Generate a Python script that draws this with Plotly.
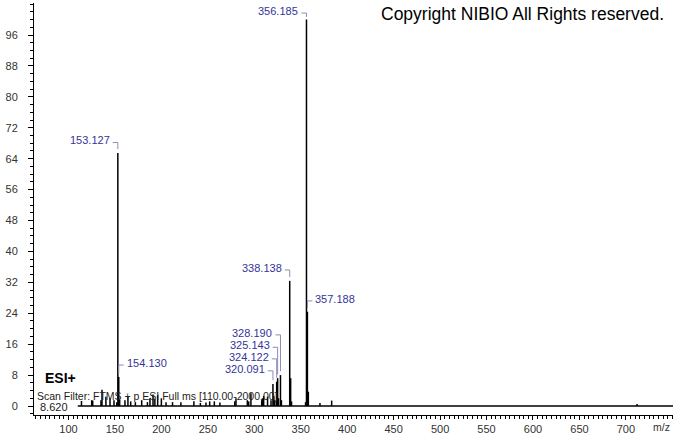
import plotly.graph_objects as go

# ---------------- data ----------------
# labelled peaks (m/z, relative intensity %)
label_mz = [153.127, 154.130, 320.091, 324.122, 325.143, 328.190, 338.138, 356.185, 357.188]
label_int = [65.5, 7.5, 5.7, 6.3, 7.2, 8.0, 32.4, 100.0, 24.4]

# unlabelled minor peaks (m/z, relative intensity %)
minor_mz = [114.0, 125.0, 126.1, 135.0, 136.1, 140.3, 144.7, 149.0, 152.0, 155.1,
            160.8, 164.0, 167.0, 172.0, 178.8, 185.0, 187.7, 191.0, 193.0, 196.0,
            200.0, 205.0, 212.0, 221.0, 235.0, 242.0, 248.0, 252.0, 257.0, 263.0,
            279.0, 280.3, 292.5, 294.0, 296.4, 308.0, 309.0, 310.1, 314.3, 318.0,
            321.1, 322.1, 326.1, 329.2, 339.14, 340.1, 355.2, 358.19, 370.7, 383.3,
            712.0]
minor_int = [1.3, 1.5, 1.4, 1.5, 4.2, 2.4, 2.0, 1.5, 1.0, 1.6,
             1.5, 2.3, 1.2, 1.0, 1.5, 1.0, 2.0, 3.0, 1.8, 2.8,
             2.0, 1.0, 1.0, 1.0, 1.2, 0.8, 0.9, 1.2, 1.2, 0.9,
             1.2, 2.0, 1.5, 1.2, 3.3, 1.5, 2.0, 2.6, 2.4, 1.5,
             2.5, 1.5, 2.0, 1.5, 7.2, 1.2, 1.0, 3.7, 0.8, 1.4,
             0.5]

scan_range = [110.0, 2000.0]

x_ticks = [100, 150, 200, 250, 300, 350, 400, 450, 500, 550, 600, 650, 700]
y_ticks = [0, 8, 16, 24, 32, 40, 48, 56, 64, 72, 80, 88, 96]

# ---------------- label layout (positions, not data) ----------------
label_side = ["left", "right", "left", "left", "left", "left", "left", "left", "right"]
label_y = [68.2, 10.6, 9.1, 12.2, 15.2, 18.4, 35.2, 101.7, 27.2]

LABEL_COLOR = "#34349a"
BRACKET_COLOR = "#8c8cb6"
FONT = "Liberation Sans, Arial, sans-serif"

W, H = 674, 434
ML, MR, MT, MB = 34, 1, 3, 19
PW, PH = W - ML - MR, H - MT - MB


def px(xp, yp):
    """pixel position -> paper coordinates"""
    return (xp - ML) / PW, 1 - (yp - MT) / PH


# ---------------- build figure ----------------
all_mz = label_mz + minor_mz
all_int = label_int + minor_int
sx, sy = [], []
for m, h in zip(all_mz, all_int):
    sx += [m, m, None]
    sy += [0, h, None]

fig = go.Figure()
fig.add_trace(go.Scatter(x=scan_range, y=[0, 0], mode="lines",
                         line=dict(color="black", width=1.6),
                         hoverinfo="skip", showlegend=False))
fig.add_trace(go.Scatter(x=sx, y=sy, mode="lines",
                         line=dict(color="black", width=1.5),
                         hoverinfo="skip", showlegend=False))

shapes = []
annotations = []
for m, h, side, ly in zip(label_mz, label_int, label_side, label_y):
    sign = -1 if side == "left" else 1
    shapes.append(dict(type="line", xref="x", yref="y", xsizemode="pixel",
                       xanchor=m, x0=0, x1=sign * 5, y0=ly, y1=ly,
                       line=dict(color=BRACKET_COLOR, width=1)))
    y_end = h + 1.0 if ly - h > 2.0 else ly - 1.0
    shapes.append(dict(type="line", xref="x", yref="y",
                       x0=m, x1=m, y0=ly, y1=y_end,
                       line=dict(color=BRACKET_COLOR, width=1)))
    annotations.append(dict(x=m, y=ly, xref="x", yref="y", text=f"{m:.3f}",
                            showarrow=False,
                            xanchor="right" if side == "left" else "left",
                            yanchor="middle", xshift=sign * 6, yshift=2,
                            font=dict(family=FONT, size=11, color=LABEL_COLOR)))

for txt, xp, yp, anchor, size, bold, col in [
    ("Copyright NIBIO All Rights reserved.", 666, 14, "right", 17.5, False, "black"),
    ("ESI+", 43, 378, "left", 14, True, "black"),
    ("Scan Filter: FTMS + p ESI Full ms [110.00-2000.00]", 35, 396, "left", 10.5, False, "#222"),
    ("8.620", 38, 407, "left", 11, False, "#222"),
    ("m/z", 672, 427, "right", 10.5, False, "#333"),
]:
    xx, yy = px(xp, yp)
    annotations.append(dict(x=xx, y=yy, xref="paper", yref="paper",
                            text=f"<b>{txt}</b>" if bold else txt,
                            showarrow=False, xanchor=anchor, yanchor="middle",
                            font=dict(family=FONT, size=size, color=col)))

fig.update_layout(
    template="none",
    width=W, height=H,
    margin=dict(l=ML, r=MR, t=MT, b=MB, pad=0, autoexpand=False),
    paper_bgcolor="white", plot_bgcolor="white",
    showlegend=False,
    shapes=shapes, annotations=annotations,
    font=dict(family=FONT, size=11, color="#333"),
    xaxis=dict(range=[62.9, 750.7], tickvals=x_ticks, ticktext=[str(v) for v in x_ticks],
               automargin=False,
               showgrid=False, zeroline=False, showline=True, linecolor="black",
               linewidth=1, ticks="outside", ticklen=4, tickcolor="black",
               tickfont=dict(family=FONT, size=11, color="#333"),
               minor=dict(dtick=5, tick0=0, ticks="outside", ticklen=3,
                          tickcolor="black", showgrid=False)),
    yaxis=dict(range=[-2.33, 104.3], tickvals=y_ticks, ticktext=[str(v) for v in y_ticks],
               automargin=False,
               showgrid=False, zeroline=False, showline=True, linecolor="black",
               linewidth=1, ticks="outside", ticklen=5, tickcolor="black",
               ticklabelstandoff=8,
               tickfont=dict(family=FONT, size=11, color="#333"),
               minor=dict(dtick=2, tick0=0, ticks="outside", ticklen=3,
                          tickcolor="black", showgrid=False)),
)

fig.write_html("out.html", config={"displayModeBar": False},
               post_script="document.body.style.margin='0px';")
